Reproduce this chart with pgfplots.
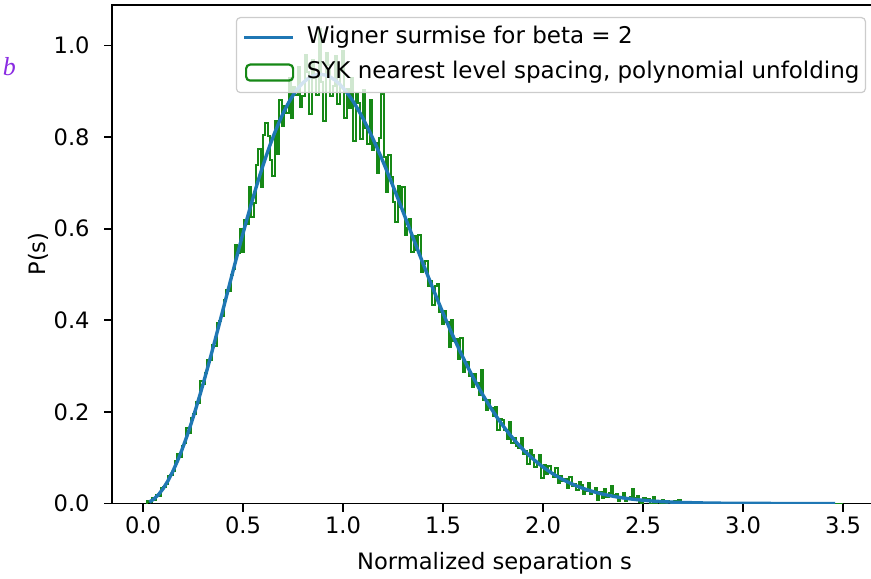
\documentclass[border=0pt]{standalone}
\usepackage{pgfplots}
\pgfplotsset{compat=1.18}
\usepackage{fontspec}
\setmainfont{DejaVu Sans}
\newfontfamily\serifit{Liberation Serif}
\definecolor{mblue}{HTML}{1F77B4}
\definecolor{mgreen}{RGB}{22,136,22}
\definecolor{purp}{RGB}{138,43,226}
\pgfplotsset{
  lineleg/.style={legend image code/.code={\draw[##1] (0pt,0pt) -- (24.5pt,0pt);}},
  rectleg/.style={legend image code/.code={\draw[##1] (1pt,-4pt) rectangle (24.5pt,4pt);}},
}
\begin{document}
\fontsize{11.3}{13.5}\selectfont
\begin{tikzpicture}
\begin{axis}[
  scale only axis, width=382.5pt, height=249.4pt,
  xmin=-0.155, xmax=3.67, ymin=0, ymax=1.089,
  xtick={0,0.5,1,1.5,2,2.5,3,3.5},
  xticklabels={0.0,0.5,1.0,1.5,2.0,2.5,3.0,3.5},
  ytick={0,0.2,0.4,0.6,0.8,1.0},
  yticklabels={0.0,0.2,0.4,0.6,0.8,1.0},
  tick align=outside, tick pos=left, major tick length=4pt,
  every tick/.style={black, line width=0.9pt},
  axis line style={line width=0.9pt},
  xticklabel style={anchor=base, inner sep=0pt, yshift=-10.75pt},
  yticklabel style={anchor=east, inner sep=0pt, xshift=-7pt},
  xlabel={Normalized separation s},
  ylabel={P(s)},
  every axis x label/.style={at={(axis description cs:0.5,-0.1323)}, anchor=base, inner sep=0pt},
  every axis y label/.style={at={(axis description cs:-0.0967,0.5)}, anchor=center, rotate=90, inner sep=0pt},
  legend style={at={(rel axis cs:1,1)}, anchor=north east, xshift=-5.5pt, yshift=-6.15pt,
    draw=black!20, line width=0.6pt, fill=white, fill opacity=0.8, text opacity=1,
    rounded corners=2pt, inner xsep=3pt, inner ysep=4.4pt, row sep=6.3pt, column sep=6pt,
    font=\fontsize{11.5}{13.5}\selectfont,
    nodes={inner sep=0pt, text height=8.6pt, text depth=2.6pt}},
  legend cell align=left,
]
\addlegendimage{mblue, line width=1.7pt, lineleg}
\addlegendentry{Wigner surmise for beta = 2}
\addlegendimage{mgreen, line width=1.1pt, rectleg}
\addlegendentry{SYK nearest level spacing, polynomial unfolding\hspace{5pt}}

\addplot[mgreen, line width=1pt, const plot mark left, forget plot] coordinates {
(0.0200,0)
(0.0200,0.006) (0.0316,0.003) (0.0432,0.013) (0.0548,0.008) (0.0664,0.018) (0.0780,0.017) (0.0896,0.033) (0.1012,0.037) (0.1128,0.042) (0.1244,0.061)
(0.1360,0.063) (0.1476,0.070) (0.1592,0.092) (0.1708,0.107) (0.1824,0.101) (0.1940,0.125) (0.2056,0.133) (0.2172,0.165) (0.2288,0.153) (0.2404,0.187)
(0.2520,0.196) (0.2636,0.222) (0.2752,0.220) (0.2868,0.267) (0.2984,0.261) (0.3100,0.285) (0.3216,0.314) (0.3332,0.314) (0.3448,0.345) (0.3564,0.343)
(0.3680,0.393) (0.3796,0.398) (0.3912,0.409) (0.4028,0.444) (0.4144,0.467) (0.4260,0.464) (0.4376,0.499) (0.4492,0.511) (0.4608,0.565) (0.4724,0.546)
(0.4840,0.600) (0.4956,0.548) (0.5072,0.620) (0.5188,0.610) (0.5304,0.690) (0.5420,0.625) (0.5536,0.655) (0.5652,0.740) (0.5768,0.775) (0.5884,0.690)
(0.6000,0.805) (0.6116,0.830) (0.6232,0.803) (0.6348,0.750) (0.6464,0.715) (0.6580,0.836) (0.6696,0.764) (0.6812,0.881) (0.6928,0.825) (0.7044,0.867)
(0.7160,0.853) (0.7276,0.928) (0.7392,0.842) (0.7508,0.909) (0.7624,0.892) (0.7740,0.954) (0.7856,0.865) (0.7972,0.890) (0.8088,0.979) (0.8204,0.943)
(0.8320,0.851) (0.8436,0.968) (0.8552,0.930) (0.8668,0.891) (0.8784,1.037) (0.8900,0.921) (0.9016,0.835) (0.9132,0.984) (0.9248,0.957) (0.9364,0.889)
(0.9480,0.911) (0.9596,0.977) (0.9712,0.873) (0.9828,0.948) (0.9944,0.987) (1.0060,0.841) (1.0176,0.905) (1.0292,0.863) (1.0408,0.930) (1.0524,0.792)
(1.0640,0.894) (1.0756,0.875) (1.0872,0.796) (1.0988,0.902) (1.1104,0.819) (1.1220,0.785) (1.1336,0.882) (1.1452,0.771) (1.1568,0.788) (1.1684,0.721)
(1.1800,0.797) (1.1916,0.895) (1.2032,0.757) (1.2148,0.681) (1.2264,0.760) (1.2380,0.712) (1.2496,0.659) (1.2612,0.614) (1.2728,0.693) (1.2844,0.648)
(1.2960,0.691) (1.3076,0.586) (1.3192,0.601) (1.3308,0.621) (1.3424,0.548) (1.3540,0.584) (1.3656,0.554) (1.3772,0.586) (1.3888,0.505) (1.4004,0.522)
(1.4120,0.529) (1.4236,0.474) (1.4352,0.486) (1.4468,0.434) (1.4584,0.474) (1.4700,0.479) (1.4816,0.419) (1.4932,0.392) (1.5048,0.420) (1.5164,0.396)
(1.5280,0.342) (1.5396,0.400) (1.5512,0.354) (1.5628,0.360) (1.5744,0.315) (1.5860,0.361) (1.5976,0.288) (1.6092,0.306) (1.6208,0.309) (1.6324,0.278)
(1.6440,0.255) (1.6556,0.283) (1.6672,0.263) (1.6788,0.236) (1.6904,0.292) (1.7020,0.226) (1.7136,0.204) (1.7252,0.225) (1.7368,0.209) (1.7484,0.190)
(1.7600,0.210) (1.7716,0.161) (1.7832,0.184) (1.7948,0.183) (1.8064,0.161) (1.8180,0.141) (1.8296,0.177) (1.8412,0.133) (1.8528,0.142) (1.8644,0.126)
(1.8760,0.121) (1.8876,0.144) (1.8992,0.108) (1.9108,0.115) (1.9224,0.087) (1.9340,0.116) (1.9456,0.106) (1.9572,0.079) (1.9688,0.087) (1.9804,0.105)
(1.9920,0.055) (2.0036,0.083) (2.0152,0.065) (2.0268,0.081) (2.0384,0.066) (2.0500,0.057) (2.0616,0.078) (2.0732,0.045) (2.0848,0.061) (2.0964,0.050)
(2.1080,0.054) (2.1196,0.033) (2.1312,0.057) (2.1428,0.038) (2.1544,0.042) (2.1660,0.029) (2.1776,0.046) (2.1892,0.040) (2.2008,0.021) (2.2124,0.027)
(2.2240,0.045) (2.2356,0.020) (2.2472,0.027) (2.2588,0.033) (2.2704,0.008) (2.2820,0.025) (2.2936,0.011) (2.3052,0.031) (2.3168,0.015) (2.3284,0.023)
(2.3400,0.038) (2.3516,0.019) (2.3632,0.021) (2.3748,0.005) (2.3864,0.011) (2.3980,0.023) (2.4096,0.005) (2.4212,0.010) (2.4328,0.015) (2.4444,0.032)
(2.4560,0.011) (2.4676,0.016) (2.4792,0.004) (2.4908,0.001) (2.5024,0.013) (2.5140,0.005) (2.5256,0.009) (2.5372,0) (2.5488,0.015) (2.5604,0.001)
(2.5720,0.006) (2.5836,0) (2.5952,0.008) (2.6068,0) (2.6184,0.005) (2.6300,0.003) (2.6416,0) (2.6532,0.005) (2.6648,0.001) (2.6764,0.008)
(2.6880,0) (3.5000,0)
};
\addplot[mblue, line width=1.7pt, forget plot] coordinates {
(0.0316,0.0032) (0.0548,0.0097) (0.0780,0.0196) (0.1012,0.0328) (0.1244,0.0492) (0.1476,0.0687) (0.1708,0.0911) (0.1940,0.1163) (0.2172,0.1440) (0.2404,0.1741) (0.2636,0.2062) (0.2868,0.2402) (0.3100,0.2757) (0.3332,0.3125) (0.3564,0.3503) (0.3796,0.3889) (0.4028,0.4279) (0.4260,0.4670) (0.4492,0.5060) (0.4724,0.5446) (0.4956,0.5825) (0.5188,0.6195) (0.5420,0.6553) (0.5652,0.6896) (0.5884,0.7224) (0.6116,0.7533) (0.6348,0.7822) (0.6580,0.8089) (0.6812,0.8333) (0.7044,0.8554) (0.7276,0.8748) (0.7508,0.8917) (0.7740,0.9059) (0.7972,0.9174) (0.8204,0.9263) (0.8436,0.9325) (0.8668,0.9359) (0.8900,0.9368) (0.9132,0.9352) (0.9364,0.9310) (0.9596,0.9245) (0.9828,0.9156) (1.0060,0.9046) (1.0292,0.8916) (1.0524,0.8766) (1.0756,0.8599) (1.0988,0.8416) (1.1220,0.8218) (1.1452,0.8007) (1.1684,0.7784) (1.1916,0.7551) (1.2148,0.7309) (1.2380,0.7060) (1.2612,0.6806) (1.2844,0.6548) (1.3076,0.6286) (1.3308,0.6023) (1.3540,0.5760) (1.3772,0.5497) (1.4004,0.5236) (1.4236,0.4978) (1.4468,0.4724) (1.4700,0.4474) (1.4932,0.4229) (1.5164,0.3990) (1.5396,0.3757) (1.5628,0.3533) (1.5860,0.3315) (1.6092,0.3105) (1.6324,0.2904) (1.6556,0.2711) (1.6788,0.2527) (1.7020,0.2350) (1.7252,0.2182) (1.7484,0.2023) (1.7716,0.1871) (1.7948,0.1729) (1.8180,0.1594) (1.8412,0.1467) (1.8644,0.1349) (1.8876,0.1237) (1.9108,0.1133) (1.9340,0.1037) (1.9572,0.0946) (1.9804,0.0862) (2.0036,0.0785) (2.0268,0.0713) (2.0500,0.0647) (2.0732,0.0585) (2.0964,0.0529) (2.1196,0.0478) (2.1428,0.0431) (2.1660,0.0387) (2.1892,0.0348) (2.2124,0.0312) (2.2356,0.0279) (2.2588,0.0250) (2.2820,0.0223) (2.3052,0.0199) (2.3284,0.0177) (2.3516,0.0157) (2.3748,0.0139) (2.3980,0.0123) (2.4212,0.0109) (2.4444,0.0096) (2.4676,0.0085) (2.4908,0.0075) (2.5140,0.0066) (2.5372,0.0057) (2.5604,0.0050) (2.5836,0.0044) (2.6500,0.0029) (2.7000,0.0022) (2.8000,0.0012) (2.9000,0.0006) (3.0000,0.0003) (3.1000,0.00015) (3.2000,0.00007) (3.3000,0.00003) (3.4600,0.00001)
};
\end{axis}
\node[anchor=base west, inner sep=0pt, text=purp, font=\fontsize{13}{15}\selectfont] at (-54.7pt,213.75pt) {\serifit\itshape b};
\pgfresetboundingbox
\path[use as bounding box] (-56pt,-37.25pt) rectangle (379.5pt,251.75pt);
\end{tikzpicture}
\end{document}
